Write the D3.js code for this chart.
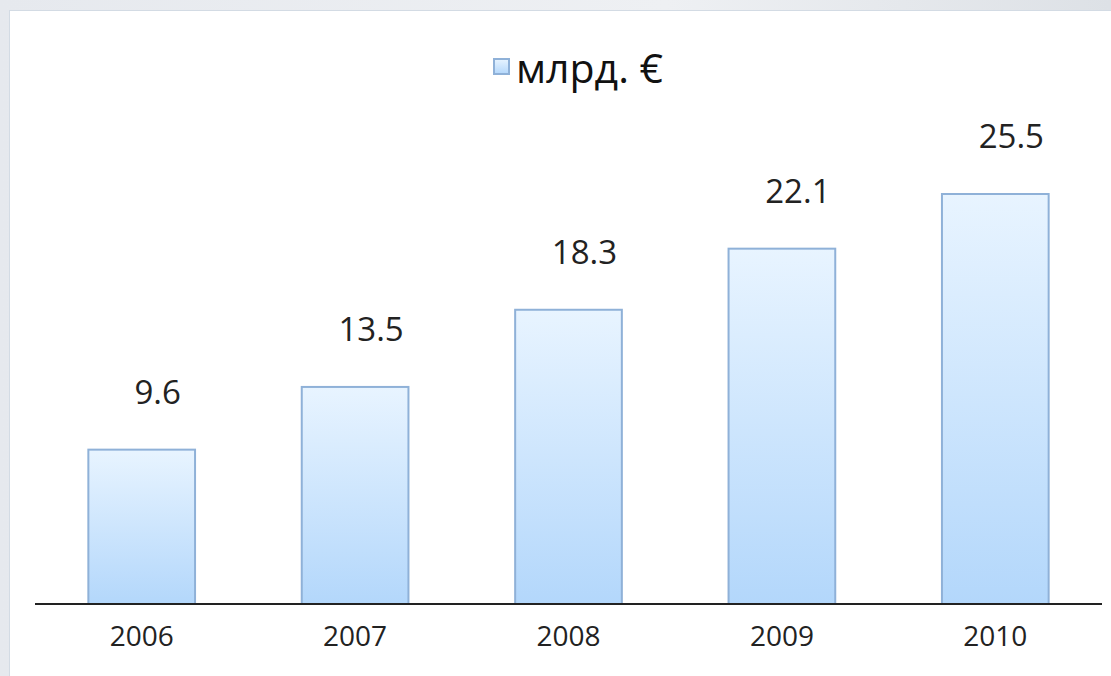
<!DOCTYPE html>
<html>
<head>
<meta charset="utf-8">
<script src="https://cdn.jsdelivr.net/npm/d3@7"></script>
<style>
  html, body { margin: 0; padding: 0; background: #ffffff; }
  svg { display: block; }
</style>
</head>
<body>
<svg id="chart" width="1111" height="676"></svg>
<script>
// ---- data ----
const categories = ["2006", "2007", "2008", "2009", "2010"];
const values = [9.6, 13.5, 18.3, 22.1, 25.5];
const valueLabels = ["9.6", "13.5", "18.3", "22.1", "25.5"];
const seriesName = "млрд. €";

// ---- layout ----
const W = 1111, H = 676;
const svg = d3.select("#chart");
const font = "'Open Sans', 'Noto Sans', sans-serif";

// background frame
const defs = svg.append("defs");
const bg = defs.append("linearGradient").attr("id", "bgGrad")
  .attr("x1", "0").attr("y1", "0").attr("x2", "1").attr("y2", "0");
bg.append("stop").attr("offset", "0%").attr("stop-color", "#e6e9ee");
bg.append("stop").attr("offset", "60%").attr("stop-color", "#eef0f3");
bg.append("stop").attr("offset", "100%").attr("stop-color", "#dde1e6");
svg.append("rect").attr("width", W).attr("height", H).attr("fill", "url(#bgGrad)");
svg.append("rect").attr("x", 9.5).attr("y", 10.5).attr("width", W).attr("height", H)
  .attr("fill", "#ffffff").attr("stroke", "#d3dbe4").attr("stroke-width", 1);

const barGrad = defs.append("linearGradient").attr("id", "barGrad")
  .attr("x1", "0").attr("y1", "0").attr("x2", "0").attr("y2", "1");
barGrad.append("stop").attr("offset", "0%").attr("stop-color", "#e8f4ff");
barGrad.append("stop").attr("offset", "100%").attr("stop-color", "#b3d7fb");

const plot = { left: 35, right: 1102, baseline: 604 };
const x = d3.scaleBand().domain(categories)
  .range([plot.left, plot.right]).paddingInner(0.5).paddingOuter(0.25);
const y = d3.scaleLinear().domain([0, 25.5]).range([plot.baseline, plot.baseline - 410]);

// bars
svg.append("g").selectAll("rect").data(values).join("rect")
  .attr("x", (d, i) => x(categories[i]))
  .attr("y", d => y(d))
  .attr("width", x.bandwidth())
  .attr("height", d => y(0) - y(d))
  .attr("fill", "url(#barGrad)")
  .attr("stroke", "#8fb1d8")
  .attr("stroke-width", 2);

// x axis
const xAxis = d3.axisBottom(x).tickSize(0).tickPadding(22);
const gx = svg.append("g").attr("transform", `translate(0,${plot.baseline})`).call(xAxis);
gx.select(".domain").attr("stroke", "#222").attr("stroke-width", 2)
  .attr("d", `M${plot.left},0H${plot.right}`);
gx.selectAll(".tick text").attr("font-family", font).attr("font-size", 28)
  .attr("fill", "#222").attr("dy", "0.71em");

// value labels
svg.append("g").selectAll("text").data(values).join("text")
  .attr("x", (d, i) => x(categories[i]) + x.bandwidth() / 2 + 16)
  .attr("y", d => y(d) - 46)
  .attr("text-anchor", "middle")
  .attr("font-family", font).attr("font-size", 33).attr("fill", "#222")
  .text((d, i) => valueLabels[i]);

// legend
const lg = svg.append("g").attr("transform", "translate(493,58)");
lg.append("rect").attr("x", 1).attr("y", 1).attr("width", 15).attr("height", 15)
  .attr("fill", "url(#barGrad)").attr("stroke", "#8fb1d8").attr("stroke-width", 2);
lg.append("text").attr("x", 23).attr("y", 25)
  .attr("font-family", font).attr("font-size", 41).attr("fill", "#111")
  .text(seriesName);
</script>
</body>
</html>
